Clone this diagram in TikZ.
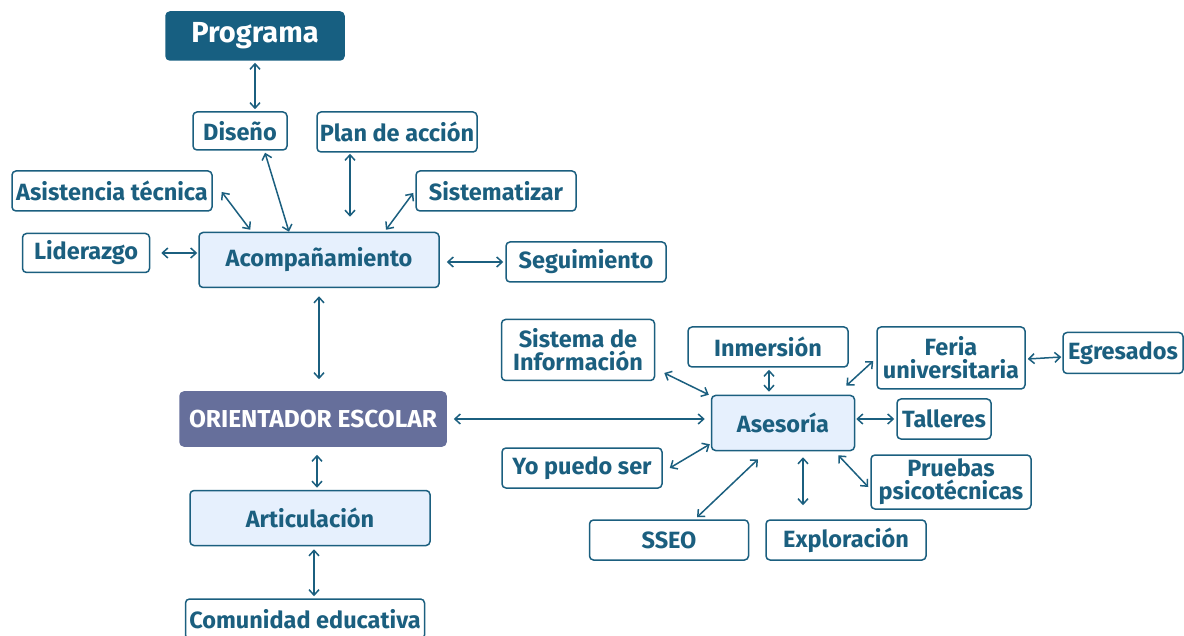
\documentclass[tikz,border=0pt]{standalone}
\usepackage{fontspec}
\setmainfont{Fira Sans}
\usepackage{tikz}
\usetikzlibrary{arrows.meta,positioning,calc}
\definecolor{azul}{HTML}{1B5F7F}
\definecolor{azulfondo}{HTML}{175F81}
\definecolor{violeta}{HTML}{666F9B}
\definecolor{celeste}{HTML}{E6F0FD}
\tikzset{
block/.style = {draw=azul, line width=1.5pt, fill=white, rectangle, rounded corners=4pt, align=center, text=azul, font=\bfseries\fontsize{23.5}{23}\selectfont, inner sep=2pt},
main/.style = {block, fill=celeste, minimum height=55pt},
title/.style = {block, draw=azulfondo, fill=azulfondo, text=white, font=\bfseries\fontsize{29}{30}\selectfont},
center/.style = {block, draw=violeta, fill=violeta, text=white, font=\bfseries\fontsize{24.5}{25}\selectfont},
link/.style = {draw=azul, line width=1.5pt, <->},
}

\begin{document}
\begin{tikzpicture}[x=1pt, y=-1pt, >={Straight Barb[length=5.5pt,width=10pt]}]
      \clip (0,0) rectangle (1184,636);
      \node [title, minimum width=178pt, minimum height=48pt] (programa) at (255,36) {Programa};
      \node [block, minimum width=94pt, minimum height=38pt] (diseno) at (240,131) {Diseño};
      \node [block, minimum width=160pt, minimum height=40pt] (plan) at (397,132) {Plan de acción};
      \node [block, minimum width=200pt, minimum height=40pt] (asistencia) at (112,191) {Asistencia técnica};
      \node [block, minimum width=160pt, minimum height=40pt] (sistematizar) at (496,191) {Sistematizar};
      \node [block, minimum width=127pt, minimum height=39pt] (liderazgo) at (86,253) {Liderazgo};
      \node [main, minimum width=240pt] (acomp) at (319,260) {Acompañamiento};
      \node [block, minimum width=160pt, minimum height=40pt] (seguimiento) at (586,262) {Seguimiento};
      \node [center, minimum width=266pt, minimum height=54pt] (orientador) at (313,419) {ORIENTADOR ESCOLAR};
      \node [main, minimum width=240pt] (articulacion) at (310,518) {Articulación};
      \node [block, minimum width=239pt, minimum height=40pt] (comunidad) at (305,619) {Comunidad educativa};
      \node [main, minimum width=143pt] (asesoria) at (783,423) {Asesoría};
      \node [block, minimum width=153pt, minimum height=61pt] (sisinfo) at (578,350) {Sistema de\\Información};
      \node [block, minimum width=160pt, minimum height=40pt] (inmersion) at (768,347) {Inmersión};
      \node [block, minimum width=148pt, minimum height=62pt] (feria) at (951,358) {Feria\\universitaria};
      \node [block, minimum width=120pt, minimum height=41pt] (egresados) at (1123,353) {Egresados};
      \node [block, minimum width=94pt, minimum height=40pt] (talleres) at (944,419) {Talleres};
      \node [block, minimum width=160pt, minimum height=40pt] (yopuedo) at (582,468) {Yo puedo ser};
      \node [block, minimum width=160pt, minimum height=54pt] (pruebas) at (951,482) {Pruebas\\psicotécnicas};
      \node [block, minimum width=159pt, minimum height=40pt] (sseo) at (669,540) {SSEO};
      \node [block, minimum width=160pt, minimum height=40pt] (exploracion) at (846,540) {Exploración};
      \draw [link] ([yshift=-2pt]programa.south) -- ([xshift=15pt,yshift=2pt]diseno.north);
      \draw [link] ([xshift=25pt,yshift=-2pt]diseno.south) -- ([xshift=-30pt]acomp.north);
      \draw [link] ([xshift=-47pt,yshift=-1pt]plan.south) -- ([xshift=31pt,yshift=15pt]acomp.north);
      \draw [link] ([xshift=9pt,yshift=-1pt]asistencia.east) -- ([xshift=52pt,yshift=2pt]acomp.north west);
      \draw [link] ([xshift=-2pt,yshift=-2pt]sistematizar.west) -- ([xshift=67pt,yshift=2pt]acomp.north);
      \draw [link] ([xshift=11pt]liderazgo.east) -- ([xshift=-1pt,yshift=7pt]acomp.west);
      \draw [link] ([xshift=7pt,yshift=-2pt]acomp.east) -- ([xshift=-2pt]seguimiento.west);
      \draw [link] ([yshift=-8pt]acomp.south) -- ([xshift=6pt,yshift=12pt]orientador.north);
      \draw [link] ([xshift=7pt]orientador.east) -- ([xshift=-6pt,yshift=4pt]asesoria.west);
      \draw [link] ([xshift=4pt,yshift=-8pt]orientador.south) -- ([xshift=7pt,yshift=2pt]articulacion.north);
      \draw [link] ([xshift=4pt,yshift=-3pt]articulacion.south) -- ([xshift=9pt,yshift=2pt]comunidad.north);
      \draw [link] ([xshift=9pt,yshift=-23pt]sisinfo.east) -- ([xshift=-2pt]asesoria.north west);
      \draw [link] ([xshift=1pt,yshift=-2pt]inmersion.south) -- ([xshift=-14pt,yshift=3pt]asesoria.north);
      \draw [link] ([xshift=-3pt,yshift=-3pt]feria.west) -- ([xshift=-9pt,yshift=9pt]asesoria.north east);
      \draw [link] ([xshift=2pt,yshift=-1pt]feria.east) -- ([xshift=-1pt,yshift=-4pt]egresados.west);
      \draw [link] ([xshift=1pt,yshift=4pt]asesoria.east) -- ([xshift=-2pt]talleres.west);
      \draw [link] ([xshift=7pt]yopuedo.east) -- ([xshift=-1pt,yshift=7pt]asesoria.south west);
      \draw [link] ([xshift=-17pt,yshift=-4pt]asesoria.south east) -- ([xshift=-2pt,yshift=-5pt]pruebas.west);
      \draw [link] ([xshift=28pt,yshift=2pt]sseo.north) -- ([xshift=-25pt,yshift=-8pt]asesoria.south);
      \draw [link] ([xshift=-43pt,yshift=14pt]exploracion.north) -- ([xshift=20pt,yshift=-6pt]asesoria.south);
\end{tikzpicture}
\end{document}
